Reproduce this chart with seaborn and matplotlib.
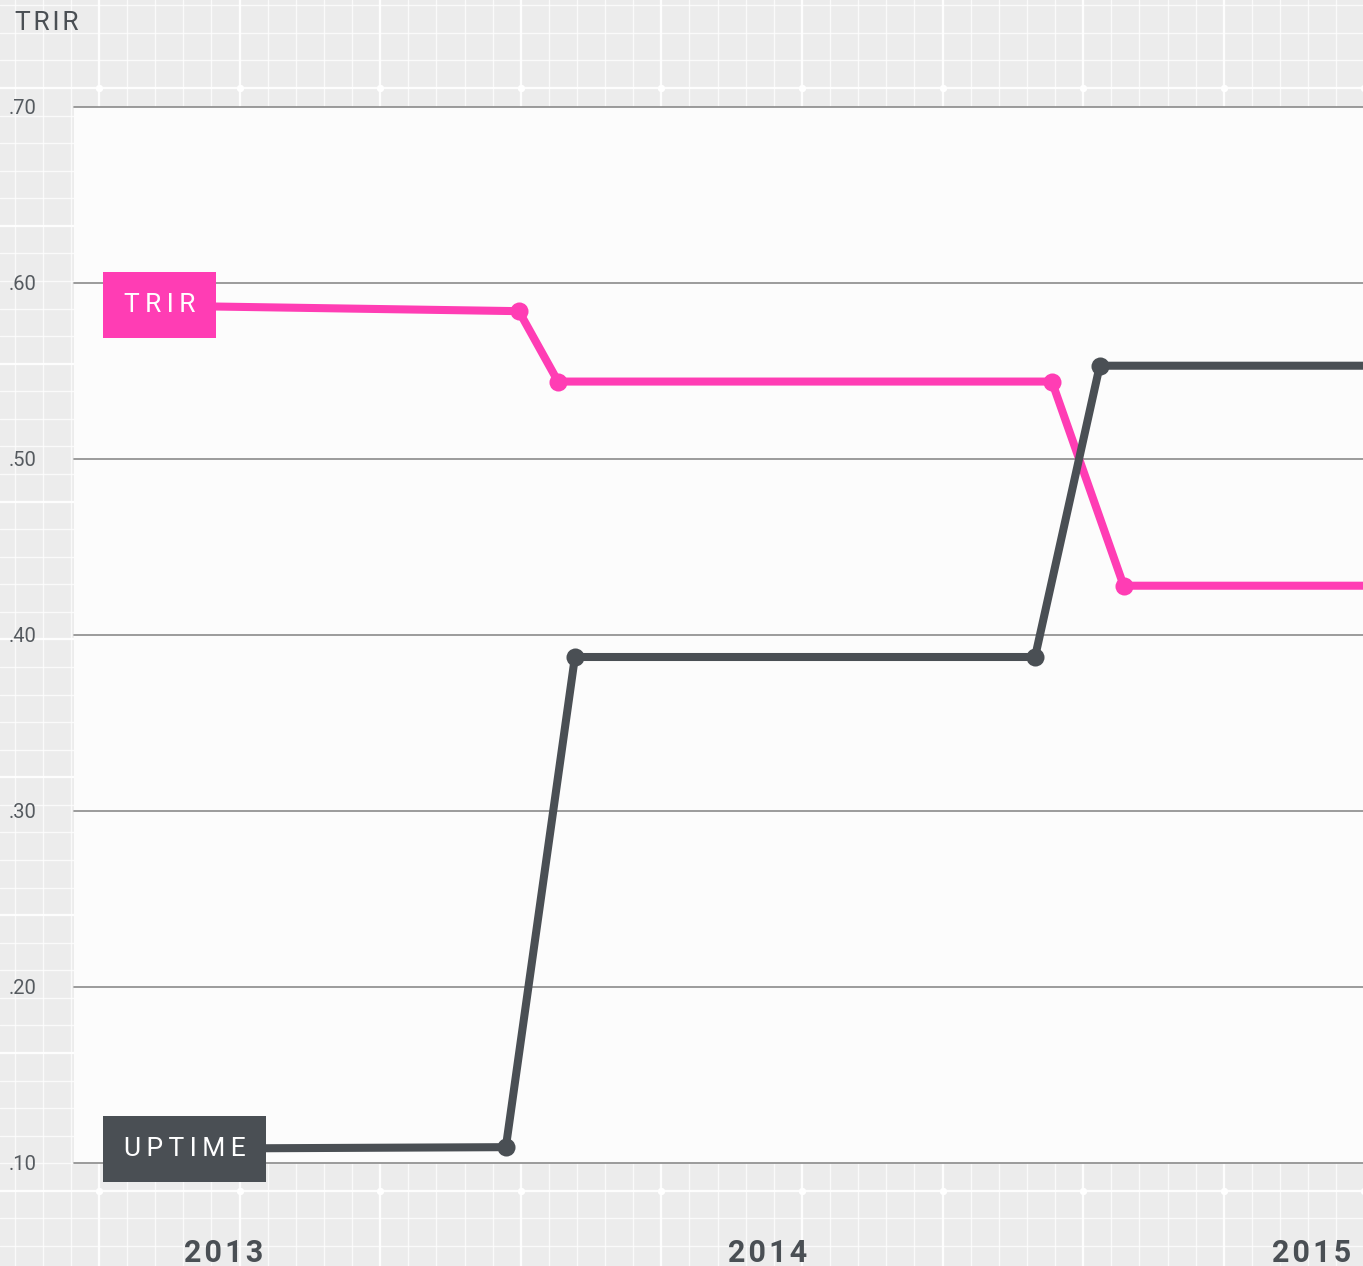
import numpy as np
import pandas as pd
import matplotlib
matplotlib.use("Agg")
import matplotlib.pyplot as plt
import seaborn as sns

# ----------------------------
# DATA
# ----------------------------
trir_x = [2012.80, 2013.542, 2013.614, 2014.522, 2014.654, 2015.2]
trir_y = [0.5875, 0.584, 0.544, 0.544, 0.428, 0.428]

uptime_x = [2012.80, 2013.518, 2013.645, 2014.491, 2014.610, 2015.2]
uptime_y = [0.108, 0.109, 0.3875, 0.3875, 0.553, 0.553]

year_ticks = [2013, 2014, 2015]
year_labels = ["2013", "2014", "2015"]
value_ticks = [0.10, 0.20, 0.30, 0.40, 0.50, 0.60, 0.70]
value_labels = [".10", ".20", ".30", ".40", ".50", ".60", ".70"]

# ----------------------------
# STYLE
# ----------------------------
PINK = "#ff3db4"
DARK = "#4a4f54"
BG = "#ececec"
W, H = 1363, 1266
THIN = "\u2009"
HAIR = "\u200a"


def spaced(s, sep):
    # fake letter spacing
    return sep.join(s)


sns.set_theme(style="white")
plt.rcParams["font.family"] = ["Roboto", "DejaVu Sans"]

fig = plt.figure(figsize=(W / 100, H / 100), dpi=100, facecolor=BG)

# graph-paper background in pixel units
bg = fig.add_axes([0, 0, 1, 1])
bg.set_xlim(0, W)
bg.set_ylim(H, 0)
bg.axis("off")
bg.set_facecolor(BG)
xs = 14.6 + 28.12 * np.arange(0, 50)
ys = 5.3 + 27.57 * np.arange(0, 47)
for i, x in enumerate(xs):
    major = (i % 5 == 3)
    bg.axvline(x, color="white", lw=1.6 if major else 1.0, alpha=0.95 if major else 0.75)
for j, y in enumerate(ys):
    major = (j % 5 == 3)
    bg.axhline(y, color="white", lw=1.6 if major else 1.0, alpha=0.95 if major else 0.75)
mx = xs[3::5]
my = ys[3::5]
gx, gy = np.meshgrid(mx, my)
bg.scatter(gx.ravel(), gy.ravel(), s=28, color="white", zorder=3, linewidths=0)

# main plot area
left, right, top, bottom = 74, 1363, 107, 1163
ax = fig.add_axes([left / W, (H - bottom) / H, (right - left) / W, (bottom - top) / H])
ax.set_facecolor("#fcfcfc")
ax.set_xlim(2012.724, 2015.094)
ax.set_ylim(0.10, 0.70)
for s in ax.spines.values():
    s.set_visible(False)

for v in value_ticks:
    ax.axhline(v, color="#8a8a8a", lw=1.2, zorder=1, clip_on=False)

sns.lineplot(x=trir_x, y=trir_y, ax=ax, sort=False, color=PINK, lw=5.8,
             marker="o", markersize=13, markevery=[1, 2, 3, 4],
             markeredgewidth=0, zorder=3)
sns.lineplot(x=uptime_x, y=uptime_y, ax=ax, sort=False, color=DARK, lw=5.8,
             marker="o", markersize=13, markevery=[1, 2, 3, 4],
             markeredgewidth=0, zorder=3)

# series label boxes
for name, xv, yv, col in [("TRIR", trir_x, trir_y, PINK), ("UPTIME", uptime_x, uptime_y, DARK)]:
    ax.annotate(spaced(name, THIN), xy=(xv[0], yv[0]), xytext=(6.2, 0),
                textcoords="offset points", ha="left", va="center",
                color="white", fontsize=19,
                bbox=dict(boxstyle="square,pad=0.78", fc=col, ec="none"), zorder=6)

ax.set_xticks(year_ticks)
ax.set_xticklabels([spaced(t, HAIR) for t in year_labels], fontsize=22,
                   fontweight="bold", color=DARK)
ax.set_yticks(value_ticks)
ax.set_yticklabels(value_labels, fontsize=14.5, color="#555a5f", ha="left",
                   va="center_baseline")
ax.tick_params(axis="x", length=0, pad=54)
ax.tick_params(axis="y", length=0, pad=47)
ax.set_xlabel("")
ax.set_ylabel("")

fig.text(15 / W, 1 - 11 / H, spaced("TRIR", HAIR), ha="left", va="top",
         fontsize=19, color=DARK)

fig.savefig("out.png", dpi=100, facecolor=BG)
